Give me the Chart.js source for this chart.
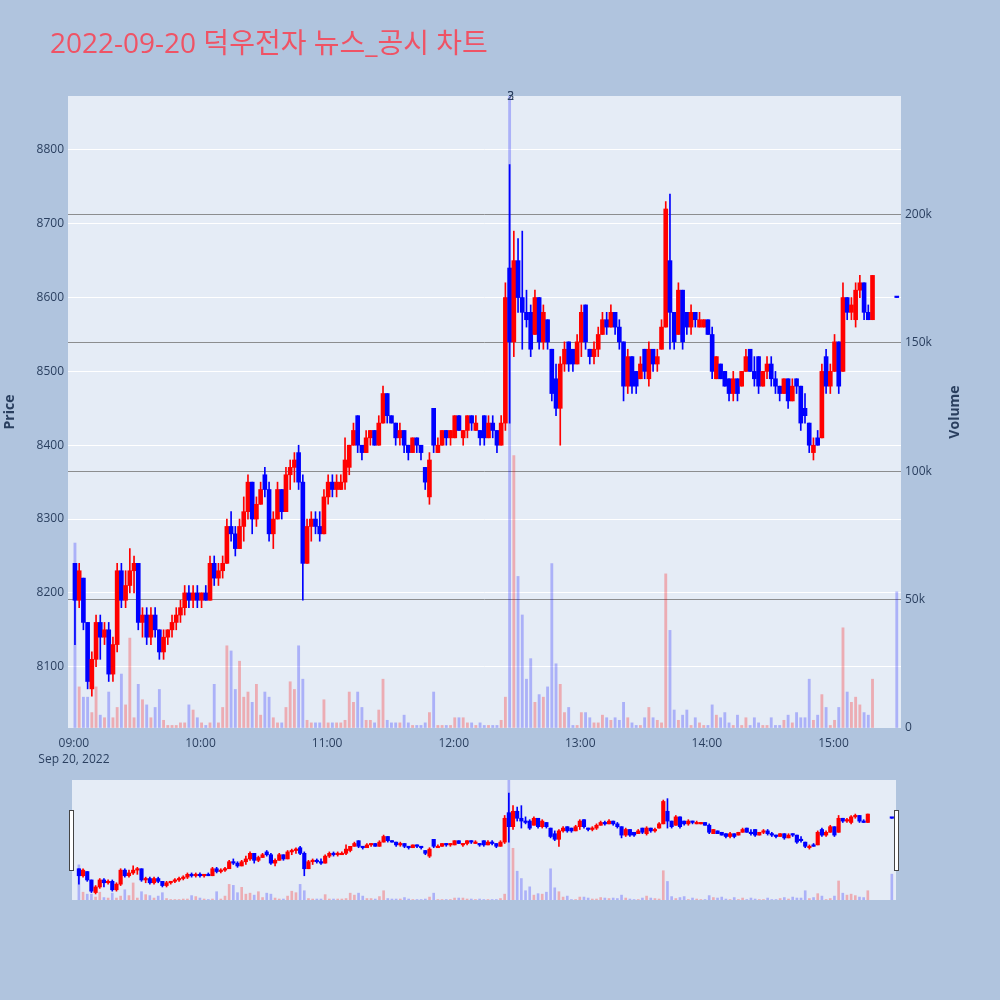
<!DOCTYPE html>
<html>
<head>
<meta charset="utf-8">
<script src="https://cdn.jsdelivr.net/npm/chart.js@4.4.1/dist/chart.umd.min.js"></script>
<style>
  body { margin: 0; background: #b0c4de; width: 1000px; height: 1000px; position: relative; overflow: hidden; font-family: "Open Sans", "Noto Sans CJK KR", sans-serif; }
  #title { position: absolute; left: 50px; top: 28px; font-size: 28px; line-height: 28px; color: #ef5365; white-space: nowrap; z-index: 2; }
  #main { position: absolute; left: 0; top: 0; }
  #slider { position: absolute; left: 72px; top: 780px; }
  .handle { position: absolute; top: 810px; width: 3px; height: 59px; background: #fff; border: 1px solid #444; }
</style>
</head>
<body>
<div id="title">2022-09-20 덕우전자 뉴스_공시 차트</div>
<canvas id="main" width="1000" height="780"></canvas>
<canvas id="slider" width="824" height="120"></canvas>
<div class="handle" style="left:69px"></div>
<div class="handle" style="left:894px"></div>
<script>
// 2-minute candles from 09:00, last entry is the 15:30 closing auction
const opens = [
  8240,8190,8220,8160,8070,8110,8160,8140,8150,8090,
  8130,8230,8190,8210,8230,8240,8160,8170,8140,8170,
  8150,8120,8140,8150,8160,8170,8180,8200,8190,8200,
  8190,8200,8190,8240,8220,8230,8240,8290,8280,8260,
  8290,8310,8350,8300,8320,8360,8340,8280,8300,8340,
  8310,8360,8370,8390,8350,8240,8290,8300,8290,8280,
  8330,8350,8340,8340,8350,8370,8400,8440,8400,8390,
  8410,8420,8400,8430,8470,8440,8430,8410,8420,8400,
  8390,8410,8400,8370,8330,8450,8390,8400,8420,8410,
  8410,8440,8410,8420,8440,8420,8420,8440,8410,8430,
  8420,8400,8430,8640,8540,8650,8600,8580,8580,8550,
  8600,8540,8570,8530,8490,8450,8510,8540,8530,8510,
  8540,8590,8530,8520,8530,8550,8570,8560,8580,8560,
  8540,8480,8520,8500,8490,8530,8490,8530,8510,8530,
  8560,8650,8580,8550,8610,8580,8560,8580,8560,8560,
  8570,8550,8490,8510,8500,8490,8470,8490,8480,8500,
  8530,8500,8520,8480,8500,8510,8490,8480,8470,8490,
  8460,8490,8480,8450,8430,8390,8410,8410,8520,8480,
  8500,8540,8500,8600,8580,8570,8610,8620,8580,8570,
  8600
];
const highs = [
  8240,8240,8220,8160,8120,8170,8170,8160,8160,8140,
  8240,8240,8230,8260,8250,8240,8180,8180,8180,8180,
  8150,8150,8150,8170,8180,8190,8210,8210,8210,8210,
  8200,8210,8250,8250,8240,8250,8300,8310,8290,8300,
  8330,8360,8350,8330,8350,8370,8350,8310,8350,8340,
  8370,8380,8390,8400,8360,8300,8310,8310,8310,8340,
  8360,8360,8360,8360,8410,8400,8430,8440,8400,8420,
  8420,8420,8440,8480,8470,8440,8430,8430,8420,8400,
  8410,8410,8400,8370,8390,8450,8410,8420,8420,8420,
  8440,8440,8420,8440,8440,8440,8420,8440,8440,8440,
  8420,8440,8620,8780,8690,8680,8690,8610,8590,8610,
  8600,8590,8570,8530,8510,8520,8540,8540,8530,8550,
  8590,8590,8530,8540,8560,8580,8580,8590,8580,8570,
  8540,8530,8520,8500,8520,8530,8540,8530,8530,8570,
  8730,8740,8580,8620,8610,8580,8590,8580,8580,8570,
  8570,8560,8520,8510,8500,8490,8500,8490,8500,8530,
  8530,8520,8520,8500,8520,8520,8500,8480,8490,8490,
  8490,8490,8480,8470,8430,8410,8420,8510,8530,8510,
  8550,8540,8620,8600,8600,8620,8630,8620,8590,8630,
  8600
];
const lows = [
  8130,8180,8150,8070,8060,8100,8110,8130,8080,8080,
  8120,8180,8180,8200,8200,8150,8140,8130,8130,8140,
  8110,8110,8130,8140,8150,8160,8170,8180,8180,8180,
  8180,8190,8190,8210,8210,8220,8240,8270,8250,8260,
  8270,8300,8280,8290,8320,8330,8270,8260,8300,8300,
  8310,8340,8350,8340,8190,8240,8270,8280,8270,8280,
  8320,8330,8330,8340,8340,8360,8400,8390,8380,8390,
  8400,8400,8400,8430,8430,8430,8400,8400,8390,8380,
  8390,8390,8380,8340,8320,8390,8390,8400,8400,8400,
  8410,8420,8400,8410,8420,8420,8400,8400,8410,8410,
  8390,8400,8420,8430,8520,8580,8530,8560,8520,8550,
  8530,8530,8530,8460,8440,8400,8500,8500,8500,8510,
  8520,8530,8510,8510,8520,8550,8550,8560,8550,8530,
  8460,8470,8470,8470,8490,8490,8480,8500,8500,8530,
  8560,8530,8530,8550,8530,8550,8550,8560,8560,8560,
  8550,8490,8490,8490,8480,8460,8460,8460,8480,8500,
  8500,8480,8470,8480,8490,8480,8470,8460,8470,8450,
  8460,8470,8420,8430,8390,8380,8400,8410,8470,8470,
  8500,8470,8500,8570,8570,8560,8600,8570,8570,8570,
  8600
];
const closes = [
  8190,8230,8160,8080,8110,8160,8140,8150,8090,8130,
  8230,8190,8210,8230,8240,8160,8170,8140,8170,8150,
  8120,8140,8150,8160,8170,8180,8200,8190,8200,8190,
  8200,8190,8240,8220,8230,8240,8290,8280,8260,8290,
  8310,8350,8300,8320,8340,8340,8280,8300,8340,8310,
  8360,8370,8380,8350,8240,8290,8300,8290,8280,8330,
  8350,8340,8350,8350,8380,8400,8420,8400,8390,8410,
  8420,8400,8430,8470,8440,8430,8410,8420,8400,8390,
  8410,8400,8390,8350,8380,8400,8400,8420,8410,8420,
  8440,8420,8420,8440,8430,8430,8410,8410,8430,8420,
  8400,8430,8600,8540,8650,8600,8580,8570,8530,8600,
  8540,8580,8540,8470,8450,8510,8530,8510,8510,8540,
  8580,8540,8520,8530,8550,8570,8560,8580,8560,8540,
  8480,8520,8480,8480,8510,8500,8530,8510,8520,8560,
  8720,8580,8540,8610,8540,8560,8580,8570,8570,8570,
  8550,8500,8520,8490,8480,8470,8490,8470,8500,8520,
  8500,8490,8480,8500,8510,8490,8480,8470,8490,8460,
  8480,8480,8430,8440,8400,8400,8400,8500,8480,8500,
  8540,8480,8600,8580,8590,8610,8620,8580,8570,8630,
  8600
];
const volumes = [
  72000,16000,12000,12000,6000,16000,5000,4000,14000,4000,
  8000,21000,9000,35000,4000,17000,11000,9000,4000,8000,
  15000,3000,1000,1000,1000,2000,2000,9000,7000,4000,
  2000,1000,2000,17000,2000,8000,32000,30000,15000,26000,
  12000,14000,10000,17000,5000,14000,12000,4000,2000,2000,
  8000,18000,15000,32000,19000,3000,2000,2000,2000,11000,
  2000,2000,2000,2000,3000,14000,10000,14000,8000,3000,
  3000,2000,7000,19000,3000,2000,2000,2000,5000,2000,
  1000,1000,1000,2000,6000,14000,1000,1000,1000,1000,
  4000,4000,4000,2000,2000,1000,2000,1000,1000,1000,
  1000,3000,12000,300000,106000,59000,44000,19000,27000,10000,
  13000,12000,16000,64000,25000,17000,6000,8000,1000,1000,
  6000,6000,4000,2000,2000,5000,4000,3000,4000,3000,
  10000,4000,2000,1000,1000,4000,8000,4000,3000,2000,
  60000,38000,7000,3000,5000,7000,1000,4000,2000,1000,
  1000,9000,5000,4000,6000,2000,1000,5000,1000,4000,
  1000,4000,2000,1000,1000,4000,1000,1000,3000,5000,
  2000,6000,4000,4000,19000,3000,5000,13000,8000,1000,
  3000,8000,39000,14000,10000,12000,9000,6000,5000,19000,
  53000
];

const slotStep = 2;          // minutes per candle
const auctionMinute = 390;   // 15:30
const hourTicks = [0, 60, 120, 180, 240, 300, 360];
const hourLabels = ['09:00', '10:00', '11:00', '12:00', '13:00', '14:00', '15:00'];
const dateLabel = 'Sep 20, 2022';
const priceTicks = [8100, 8200, 8300, 8400, 8500, 8600, 8700, 8800];
const volumeTicks = [0, 50000, 100000, 150000, 200000];
const newsMarks = [{ minute: 207, label: '2' }, { minute: 207, label: '3' }];

const slotMinutes = closes.map((_, i) => i === closes.length - 1 ? auctionMinute : i * slotStep + 0.5);
const rising = closes.map((c, i) => c > opens[i]);
const candleColors = rising.map(r => r ? '#ff0000' : '#0000ff');
const volumeColors = rising.map(r => r ? 'rgba(255,0,0,0.27)' : 'rgba(0,0,255,0.25)');
const axisColor = '#2a3f5f';

function makeDatasets(bodyW, wickW, volW) {
  return [
    { label: 'body', data: slotMinutes.map((x, i) => ({ x, y: [opens[i], closes[i]] })),
      backgroundColor: candleColors, barThickness: bodyW, minBarLength: 1.5, grouped: false, yAxisID: 'y', order: 1 },
    { label: 'wick', data: slotMinutes.map((x, i) => ({ x, y: [lows[i], highs[i]] })),
      backgroundColor: candleColors, barThickness: wickW, grouped: false, yAxisID: 'y', order: 2 },
    { label: 'volume', data: slotMinutes.map((x, i) => ({ x, y: volumes[i] })),
      backgroundColor: volumeColors, barThickness: volW, grouped: false, yAxisID: 'y2', order: 3 }
  ];
}

const plotBg = {
  id: 'plotBg',
  beforeDraw(chart, args, opts) {
    const { ctx, chartArea: a } = chart;
    ctx.save();
    ctx.fillStyle = '#e5ecf6';
    if (opts.full) ctx.fillRect(0, 0, chart.width, chart.height);
    else ctx.fillRect(a.left, a.top, a.right - a.left, a.bottom - a.top);
    ctx.restore();
  }
};

const extras = {
  id: 'extras',
  afterDraw(chart) {
    const { ctx, chartArea: a, scales } = chart;
    ctx.save();
    ctx.fillStyle = axisColor;
    ctx.font = '12px "Open Sans"';
    ctx.textAlign = 'center';
    ctx.textBaseline = 'middle';
    newsMarks.forEach(m => ctx.fillText(m.label, scales.x.getPixelForValue(m.minute), a.top + 1));
    ctx.font = 'bold 14px "Open Sans"';
    ctx.translate(955, (a.top + a.bottom) / 2);
    ctx.rotate(-Math.PI / 2);
    ctx.fillText('Volume', 0, 0);
    ctx.restore();
  }
};

new Chart(document.getElementById('main'), {
  type: 'bar',
  data: { datasets: makeDatasets(4, 1, 2.2) },
  options: {
    responsive: false,
    animation: false,
    layout: { padding: { top: 96, right: 32, left: 0, bottom: 0 } },
    plugins: { legend: { display: false }, tooltip: { enabled: false }, plotBg: {} },
    scales: {
      x: {
        type: 'linear', min: -2.8, max: 392, offset: false,
        grid: { display: false, drawTicks: false, offset: false },
        border: { display: false },
        afterBuildTicks: s => { s.ticks = hourTicks.map(v => ({ value: v })); },
        ticks: {
          autoSkip: false, maxRotation: 0, padding: 7, color: axisColor,
          font: { size: 12, family: 'Open Sans', lineHeight: 1.35 },
          callback: (v, i) => i === 0 ? [hourLabels[0], dateLabel] : hourLabels[i]
        },
        afterFit: s => { s.height = 52; }
      },
      y: {
        position: 'left', min: 8017, max: 8873,
        afterBuildTicks: s => { s.ticks = priceTicks.map(v => ({ value: v })); },
        grid: { color: '#ffffff', lineWidth: 1, drawTicks: false },
        border: { display: false },
        ticks: { color: axisColor, padding: 4, font: { size: 12, family: 'Open Sans' }, callback: v => String(v) },
        title: { display: true, text: 'Price', color: axisColor, padding: 2, font: { size: 14, weight: 'bold', family: 'Open Sans' } },
        afterFit: s => { s.width = 68; }
      },
      y2: {
        position: 'right', min: 0, max: 246000,
        afterBuildTicks: s => { s.ticks = volumeTicks.map(v => ({ value: v })); },
        grid: { color: c => c.tick && c.tick.value === 0 ? 'rgba(0,0,0,0)' : 'rgba(125,125,125,0.85)', lineWidth: 1, drawTicks: false },
        border: { display: false },
        ticks: { color: axisColor, padding: 4, font: { size: 12, family: 'Open Sans' },
                 callback: v => v === 0 ? '0' : (v / 1000) + 'k' },
        afterFit: s => { s.width = 67; }
      }
    }
  },
  plugins: [plotBg, extras]
});

new Chart(document.getElementById('slider'), {
  type: 'bar',
  data: { datasets: makeDatasets(3.5, 1, 2) },
  options: {
    responsive: false,
    animation: false,
    layout: { padding: 0 },
    plugins: { legend: { display: false }, tooltip: { enabled: false }, plotBg: { full: true } },
    scales: {
      x: { type: 'linear', min: -2.8, max: 392, offset: false, display: false },
      y: { min: 8017, max: 8873, display: false },
      y2: { min: 0, max: 246000, display: false }
    }
  },
  plugins: [plotBg]
});
</script>
</body>
</html>
